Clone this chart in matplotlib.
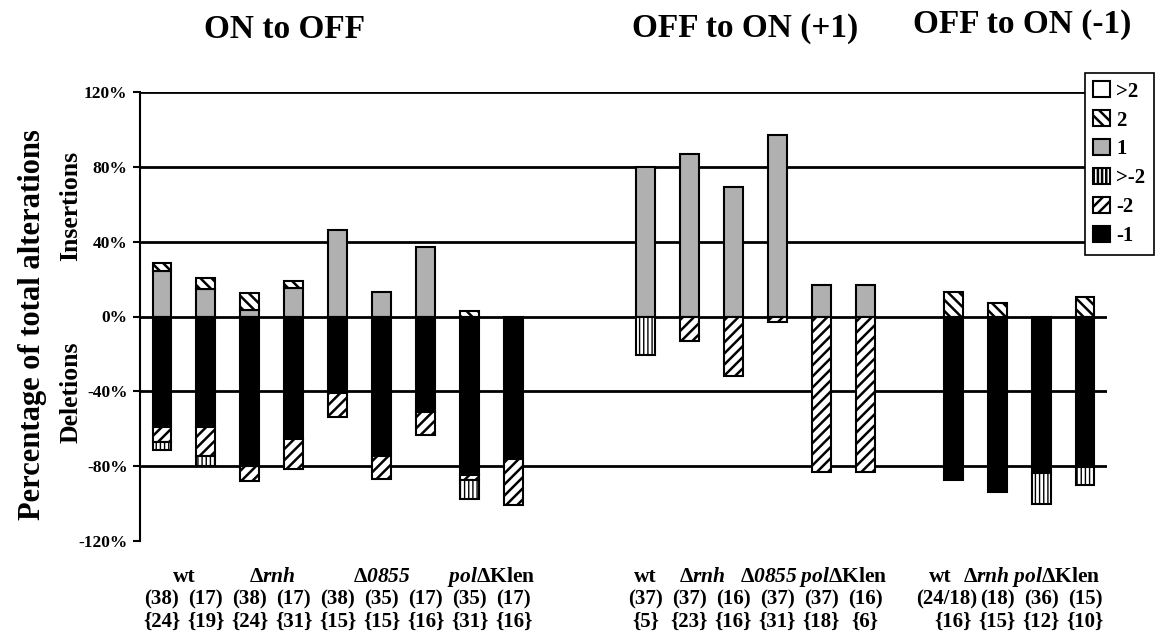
import numpy as np
import matplotlib
matplotlib.use("Agg")
import matplotlib.pyplot as plt
import matplotlib.ticker as mticker

# ── data ────
panels = ["ON to OFF", "OFF to ON (+1)", "OFF to ON (-1)"]
group_sizes = [9, 6, 4]

# insertions (stacked upward)
ins_1   = [24.2, 14.8, 3.6, 15.1, 46.5, 13.2, 37.2, 0.0, 0.0,
           80.0, 87.0, 69.0, 97.0, 17.0, 17.0,
           0.0, 0.0, 0.0, 0.0]
ins_2   = [4.2, 5.6, 8.8, 4.1, 0.0, 0.0, 0.0, 3.1, 0.0,
           0.0, 0.0, 0.0, 0.0, 0.0, 0.0,
           12.9, 7.4, 0.0, 10.2]
ins_gt2 = [0.0] * 19

# deletions (stacked downward)
del_1   = [59.3, 58.8, 80.1, 65.3, 40.9, 74.4, 50.8, 84.9, 76.0,
           0.0, 0.0, 0.0, 0.0, 0.0, 0.0,
           87.6, 93.8, 83.6, 80.6]
del_2   = [8.0, 15.6, 8.0, 16.2, 12.9, 12.4, 12.4, 2.3, 24.5,
           0.0, 13.0, 31.6, 3.0, 83.3, 83.3,
           0.0, 0.0, 0.0, 0.0]
del_gt2 = [4.3, 5.3, 0.0, 0.0, 0.0, 0.0, 0.0, 10.3, 0.0,
           20.5, 0.0, 0.0, 0.0, 0.0, 0.0,
           0.0, 0.0, 16.4, 9.6]

# \mathbf is mapped to bold italic below (mathtext keeps digits upright in \mathit)
WT, RNH, D0855, POL = ("wt", r"$\Delta\mathbf{rnh}$", r"$\Delta\mathbf{0855}$",
                       r"$\mathbf{pol}\Delta\mathrm{Klen}$")
strain_labels = [[WT, RNH, D0855, POL], [WT, RNH, D0855, POL], [WT, RNH, POL]]
counts = ["(38)", "(17)", "(38)", "(17)", "(38)", "(35)", "(17)", "(35)", "(17)",
          "(37)", "(37)", "(16)", "(37)", "(37)", "(16)",
          "(24/18)", "(18)", "(36)", "(15)"]
braces = ["{24}", "{19}", "{24}", "{31}", "{15}", "{15}", "{16}", "{31}", "{16}",
          "{5}", "{23}", "{16}", "{31}", "{18}", "{6}",
          "{16}", "{15}", "{12}", "{10}"]

yticks = [120, 80, 40, 0, -40, -80, -120]

# ── style ────
FONT = "Liberation Serif"
plt.rcParams["font.family"] = FONT
plt.rcParams["font.weight"] = "bold"
plt.rcParams["mathtext.fontset"] = "custom"
plt.rcParams["mathtext.rm"] = "Liberation Serif:bold"
plt.rcParams["mathtext.it"] = "Liberation Serif:italic:bold"
plt.rcParams["mathtext.bf"] = "Liberation Serif:italic:bold"
plt.rcParams["hatch.linewidth"] = 1.8
GRAY = "#b0b0b0"

# x positions: extra empty slots between groups
gaps = [0, 2, 1]
x = []
start = 0
for size, gap in zip(group_sizes, gaps):
    start += gap
    x.extend(range(start, start + size))
    start += size
x = np.array(x, dtype=float)
starts = [int(x[0]), int(x[9]), int(x[15])]

fig = plt.figure(figsize=(11.56, 6.35), dpi=100)
ax = fig.add_axes([140 / 1156, 1 - 541 / 635, (1107 - 140) / 1156, (541 - 92) / 635])

W = 0.43
kw = dict(width=W, edgecolor="black", linewidth=1.5, zorder=3)

i1 = np.array(ins_1); i2 = np.array(ins_2); i3 = np.array(ins_gt2)
d1 = np.array(del_1); d2 = np.array(del_2); d3 = np.array(del_gt2)

def mask(v):
    return np.where(v > 0, v, np.nan)

b_i1 = ax.bar(x, mask(i1), color=GRAY, label="1", **kw)
b_i2 = ax.bar(x, mask(i2), bottom=i1, color="white", hatch="\\\\\\", label="2", **kw)
b_i3 = ax.bar(x, mask(i3), bottom=i1 + i2, color="white", label=">2", **kw)
b_d1 = ax.bar(x, -mask(d1), color="black", label="-1", **kw)
b_d2 = ax.bar(x, -mask(d2), bottom=-d1, color="white", hatch="///", label="-2", **kw)
with plt.rc_context({"hatch.linewidth": 1.0}):
    b_d3 = ax.bar(x, -mask(d3), bottom=-(d1 + d2), color="white", hatch="||||",
                  label=">-2", **kw)

for v in yticks[:-1]:
    ax.axhline(v, color="black", linewidth=2, zorder=1)

ax.set_xlim(-0.5, x[-1] + 0.5)
ax.set_ylim(-120, 120)
ax.set_yticks(yticks)
ax.yaxis.set_major_formatter(mticker.FuncFormatter(lambda v, _: f"{int(v)}%"))
ax.tick_params(axis="y", direction="out", length=5, width=1.5, labelsize=12.5, pad=4)
ax.set_xticks([])
for s in ["top", "right", "bottom"]:
    ax.spines[s].set_visible(False)
ax.spines["left"].set_linewidth(1.5)

# bottom labels
trans = ax.get_xaxis_transform()
name_pos = [[0.5, 2.5, 5.0, 7.5], [0.0, 1.3, 2.8, 4.5], [-0.3, 0.75, 2.35]]
for g, (names, offs) in enumerate(zip(strain_labels, name_pos)):
    for name, off in zip(names, offs):
        ax.text(starts[g] + off, -0.080, name, transform=trans, ha="center",
                va="center", fontsize=15.5, fontweight="bold")
for xi, c, b in zip(x, counts, braces):
    dx = -0.15 if c == "(24/18)" else 0.0
    ax.text(xi + dx, -0.131, c, transform=trans, ha="center", va="center",
            fontsize=15, fontweight="bold")
    ax.text(xi, -0.180, b, transform=trans, ha="center", va="center",
            fontsize=15, fontweight="bold")

# panel titles
for t, px, py in zip(panels, [285, 745, 1022], [30, 28, 25]):
    fig.text(px / 1156, 1 - py / 635, t, ha="center", va="center",
             fontsize=24, fontweight="bold")

# axis labels
fig.text(33 / 1156, 1 - 325 / 635, "Percentage of total alterations", rotation=90,
         ha="center", va="center", fontsize=22, fontweight="bold")
fig.text(71 / 1156, 1 - 206 / 635, "Insertions", rotation=90,
         ha="center", va="center", fontsize=18.5, fontweight="bold")
fig.text(71 / 1156, 1 - 392 / 635, "Deletions", rotation=90,
         ha="center", va="center", fontsize=18.5, fontweight="bold")

# legend
handles = [b_i3, b_i2, b_i1, b_d3, b_d2, b_d1]
leg = fig.legend(handles, [h.get_label() for h in handles], loc="upper left",
                 bbox_to_anchor=(1085 / 1156, 1 - 73 / 635), frameon=True,
                 fancybox=False, edgecolor="black", framealpha=1,
                 handlelength=0.8, handleheight=0.8, handletextpad=0.3,
                 labelspacing=0.42, borderpad=0.4, borderaxespad=0,
                 prop={"family": FONT, "weight": "bold", "size": 15})
leg.get_frame().set_linewidth(1.2)

fig.savefig("out.png", dpi=100)
